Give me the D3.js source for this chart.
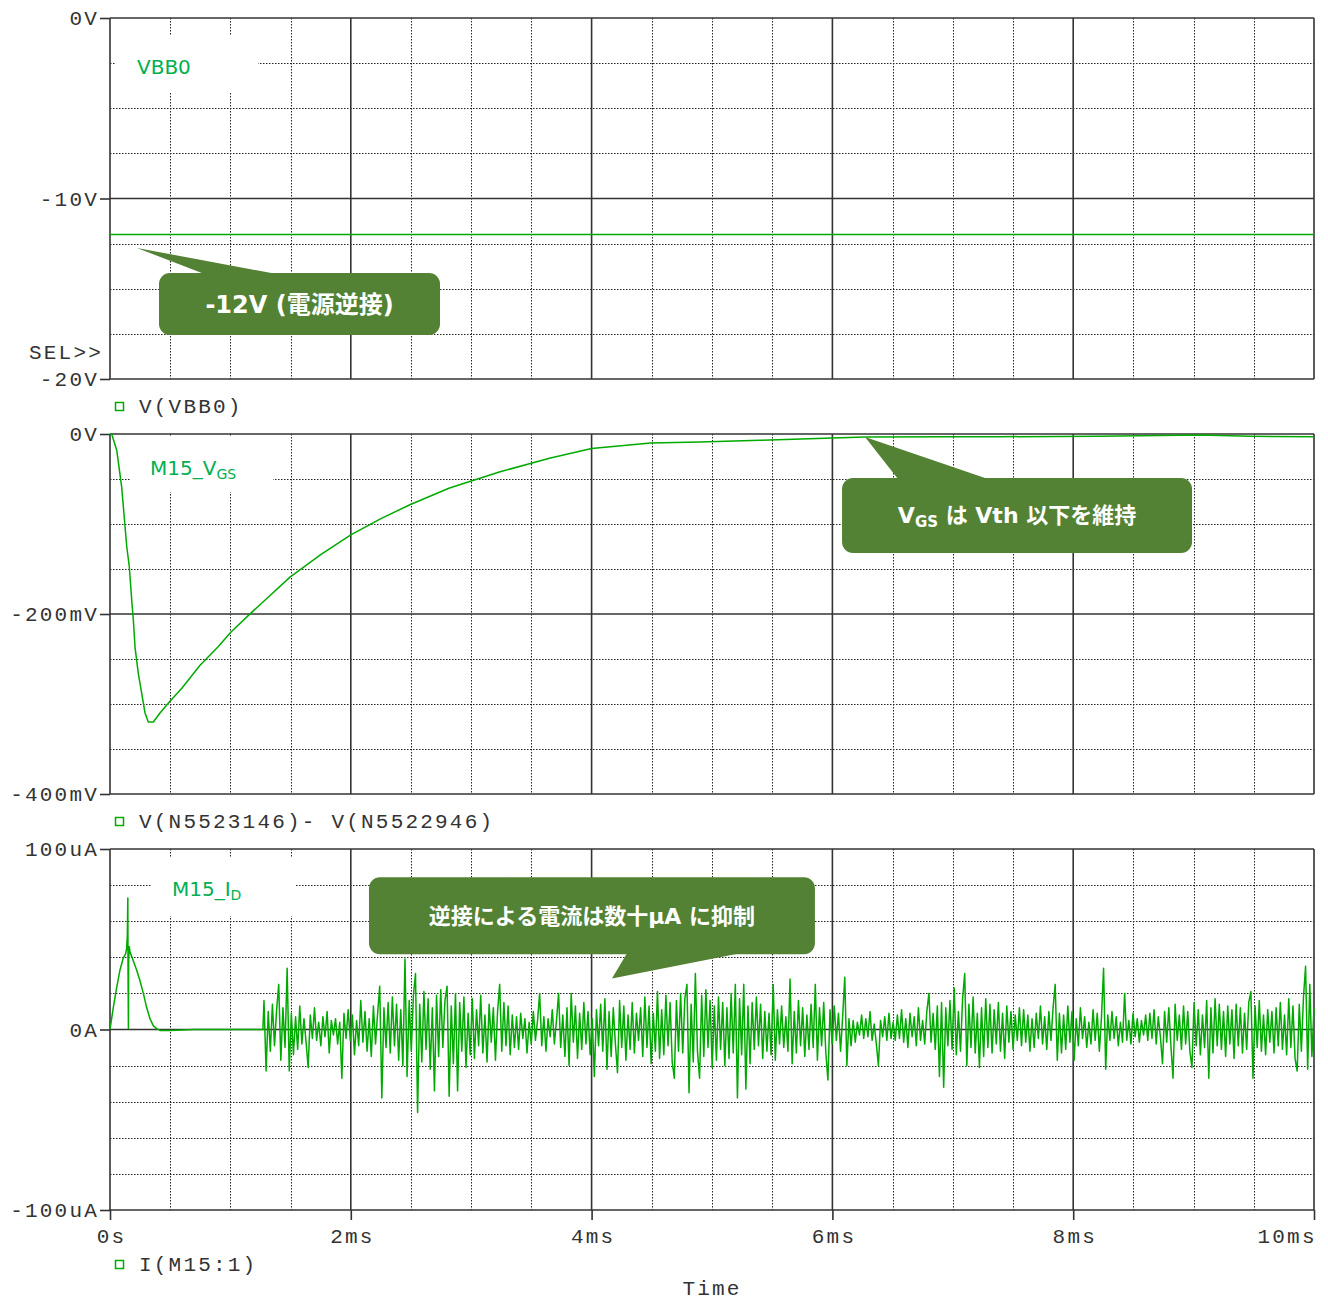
<!DOCTYPE html>
<html>
<head>
<meta charset="utf-8">
<script src="https://cdn.jsdelivr.net/npm/d3@7"></script>
<style>
  body { margin: 0; background: #fff; }
  .mono { font-family: "Liberation Mono", "Courier New", monospace; font-size: 21px; letter-spacing: 2.2px; fill: #333; }
  .tag { font-family: "DejaVu Sans", Verdana, sans-serif; font-size: 20px; fill: #00b050; }
  .note { font-family: "DejaVu Sans", "Noto Sans CJK JP", sans-serif; font-weight: 700; fill: #fff; }
</style>
</head>
<body>
<svg id="chart" width="1328" height="1301"></svg>
<script>
// time axis, ms
const timeTicks = [0, 2, 4, 6, 8, 10];
const timeLabels = ['0s', '2ms', '4ms', '6ms', '8ms', '10ms'];

// panel 1 : V(VBB0) in V
const vbbTicks = [0, -10, -20];
const vbbLabels = ['0V', '-10V', '-20V'];
const vbbTime = [0, 10];
const vbbValues = [-12, -12];

// panel 2 : VGS in mV
const vgsTicks = [0, -200, -400];
const vgsLabels = ['0V', '-200mV', '-400mV'];
const vgsTime = [0, 0.014, 0.056, 0.097, 0.125, 0.139, 0.16, 0.18, 0.194, 0.208, 0.235, 0.263, 0.291,
  0.318, 0.36, 0.415, 0.498, 0.6, 0.748, 0.9, 1.005, 1.17, 1.3, 1.495, 1.75, 2.0, 2.25, 2.5, 2.82,
  3.24, 3.65, 4.0, 4.49, 4.9, 5.4, 6.0, 6.27, 6.98, 7.4, 8.22, 9.05, 9.47, 10];
const vgsValues = [0, 0, -18, -59, -103, -125, -147, -184, -207, -237, -266, -288, -310,
  -320, -320, -310, -297, -282, -257, -236, -220, -199, -183, -159, -134, -112, -94, -78, -60,
  -42, -27, -16, -10, -9, -7, -4.5, -3.3, -3, -3, -2.5, -1, -2.5, -3];

// panel 3 : I(M15:1) in uA
const idTicks = [100, 0, -100];
const idLabels = ['100uA', '0A', '-100uA'];
const idPulseTime = [0, 0.027, 0.055, 0.083, 0.11, 0.13, 0.138, 0.144, 0.148, 0.15, 0.153, 0.155, 0.16,
  0.166, 0.194, 0.221, 0.249, 0.277, 0.305, 0.332, 0.36, 0.388, 0.415, 0.5, 0.7, 1.0, 1.27];
const idPulseValues = [0, 12, 23, 33, 39.5, 42, 45, 52, 72.8, 30, 0.5, 38, 46,
  43, 38, 33, 27, 20, 12, 6, 2, 0.5, -0.5, -0.5, 0, 0, 0];
// noise samples from 1.279ms to 10ms, evenly spaced
const noiseStart = 1.279;
const noiseEnd = 10;
const idNoise = [
  16,-23,10,-12,14,-9,11,25,-17,12,-10,34,-23,9,-14,7,-11,13,-8,6,
  -7,-21,8,-5,12,-6,4,-9,7,-4,10,-13,5,-3,6,-8,4,-27,9,-5,
  11,-6,8,-14,5,-9,16,-7,10,-12,6,-15,13,-8,9,24,-38,12,-10,15,
  -13,18,-9,14,-17,11,-20,39,-26,16,-12,19,31,-46,14,-18,21,-11,17,-22,
  12,-34,19,-15,22,-10,16,24,-37,13,-19,20,-34,15,-12,18,-21,9,-14,17,
  -16,11,-9,19,-13,8,-18,14,-7,12,-17,10,25,-12,15,-9,13,-14,8,-10,
  7,-11,9,-5,6,-13,4,-8,10,-6,5,20,-9,7,-12,6,-4,11,-8,5,
  20,-10,8,-15,12,-20,20,-7,13,-16,9,-11,15,-8,10,-14,6,-26,11,-9,
  14,-12,17,-22,10,-15,12,-8,-24,16,-10,13,-17,8,-11,15,-13,9,-6,12,
  -15,18,-10,13,-19,9,-12,21,-16,11,-14,19,-9,15,-18,-27,16,-12,20,-13,
  17,25,-35,14,-18,31,-12,-27,19,-15,22,-10,16,-21,13,-17,18,-11,15,-20,
  12,-16,20,-13,25,-38,17,-14,25,-33,13,-19,15,-11,18,-9,14,-16,10,-12,
  9,-14,25,-17,11,-8,13,-10,7,-12,28,-19,10,-13,16,-9,12,-15,8,-11,
  14,-10,25,-17,12,-9,15,-13,-28,11,-8,13,-6,9,-12,7,29,-20,6,-9,
  5,-7,4,-3,8,-5,6,-4,10,-6,3,-8,-20,5,-4,7,-6,9,-5,4,
  -6,8,-5,11,-7,6,-10,9,-4,7,-9,12,-6,5,-8,10,20,-7,9,-11,
  13,-26,15,-32,12,-9,16,-11,23,-14,10,-12,17,31,-20,14,-10,18,-13,9,
  -21,12,-15,17,-10,14,-13,11,-8,15,-12,9,-16,13,-7,10,-11,8,-6,12,
  -9,11,-7,8,-12,6,-10,9,-5,13,-8,7,-11,10,-6,12,25,-17,9,-13,
  8,-11,13,-7,10,-17,6,-9,12,-5,7,-10,4,-8,11,-6,9,-12,7,34,
  -22,8,-6,10,-5,7,-9,4,-7,20,-6,5,-8,9,-4,6,-7,5,-3,8,
  -6,9,-5,11,-8,7,-4,-19,10,-7,12,-9,-27,14,-6,8,-11,13,-8,10,
  -12,-21,15,-9,11,-14,8,-10,16,-27,12,-13,17,-9,14,-11,10,-15,13,-8,
  11,-16,14,-9,12,-13,9,-11,15,21,-27,13,-10,16,-12,8,-14,11,-7,10,
  -13,12,-9,15,-11,8,-14,17,-10,13,-16,-23,14,-12,18,35,-22,25,-15,12
];

const noiseStep = (noiseEnd - noiseStart) / (idNoise.length - 1);
const idTime = idPulseTime.concat(idNoise.map((v, i) => noiseStart + i * noiseStep));
const idValues = idPulseValues.concat(idNoise);

const traceColor = '#00aa00';
const gridColor = '#222';
const axisColor = '#333';
const noteColor = '#548235';

const svg = d3.select('#chart');
const x = d3.scaleLinear().domain([0, 10]).range([110, 1314]);
const snap = v => Math.round(v) + 0.5;

const panels = [
  { top: 18, bottom: 379, domain: [-20, 0], ticks: vbbTicks, labels: vbbLabels, minor: 2.5,
    time: vbbTime, values: vbbValues, legend: 'V(VBB0)', legendDy: 27,
    tag: ['VBB0'], tagBox: [5, 18, 143, 56], tagText: [27, 56] },
  { top: 434, bottom: 794, domain: [-400, 0], ticks: vgsTicks, labels: vgsLabels, minor: 50,
    time: vgsTime, values: vgsValues, legend: 'V(N5523146)- V(N5522946)', legendDy: 27,
    tag: ['M15_V', 'GS'], tagBox: [20, 2, 143, 56], tagText: [40, 41] },
  { top: 849, bottom: 1210, domain: [-100, 100], ticks: idTicks, labels: idLabels, minor: 20,
    time: idTime, values: idValues, legend: 'I(M15:1)', legendDy: 54,
    tag: ['M15_I', 'D'], tagBox: [42, 9, 143, 58], tagText: [62, 47] }
];

panels.forEach(p => {
  const y = d3.scaleLinear().domain(p.domain).range([p.bottom, p.top]);
  p.y = y;
  const g = svg.append('g');

  // dotted minor grid
  const minorY = d3.range(p.domain[0], p.domain[1] + 1e-6, p.minor).filter(v => !p.ticks.includes(v));
  const minorX = d3.range(0.5, 10, 0.5).filter(t => !timeTicks.includes(t));
  g.selectAll('.hmin').data(minorY).join('line')
    .attr('x1', x(0)).attr('x2', x(10))
    .attr('y1', d => snap(y(d))).attr('y2', d => snap(y(d)))
    .attr('stroke', gridColor).attr('stroke-dasharray', '1.5,1.5');
  g.selectAll('.vmin').data(minorX).join('line')
    .attr('x1', d => snap(x(d))).attr('x2', d => snap(x(d)))
    .attr('y1', p.top).attr('y2', p.bottom)
    .attr('stroke', gridColor).attr('stroke-dasharray', '1.5,1.5');

  // solid major grid
  g.selectAll('.hmaj').data(p.ticks).join('line')
    .attr('x1', x(0)).attr('x2', x(10))
    .attr('y1', d => y(d)).attr('y2', d => y(d))
    .attr('stroke', axisColor).attr('stroke-width', 1.6);
  g.selectAll('.vmaj').data(timeTicks).join('line')
    .attr('x1', d => x(d)).attr('x2', d => x(d))
    .attr('y1', p.top).attr('y2', p.bottom)
    .attr('stroke', axisColor).attr('stroke-width', 1.6);

  // y axis
  const ax = g.append('g')
    .attr('transform', `translate(${x(0)},0)`)
    .call(d3.axisLeft(y).tickValues(p.ticks).tickSize(10).tickPadding(1)
      .tickFormat((d, i) => p.labels[i]));
  ax.select('.domain').remove();
  ax.selectAll('line').attr('stroke', axisColor).attr('stroke-width', 1.6);
  ax.selectAll('text').attr('class', 'mono').attr('font-family', null).attr('font-size', null).attr('fill', null);

  // trace label with white backing
  g.append('rect')
    .attr('x', x(0) + p.tagBox[0]).attr('y', p.top + p.tagBox[1])
    .attr('width', p.tagBox[2]).attr('height', p.tagBox[3])
    .attr('fill', '#fff');
  const tag = g.append('text').attr('class', 'tag')
    .attr('x', x(0) + p.tagText[0]).attr('y', p.top + p.tagText[1]);
  tag.append('tspan').text(p.tag[0]);
  if (p.tag[1]) tag.append('tspan').style('font-size', '14px').attr('dy', 4).text(p.tag[1]);

  // trace
  const line = d3.line().x(d => x(d[0])).y(d => y(d[1]));
  g.append('path')
    .datum(p.time.map((t, i) => [t, p.values[i]]))
    .attr('d', line)
    .attr('fill', 'none')
    .attr('stroke', traceColor)
    .attr('stroke-width', 1.5)
    .attr('stroke-linejoin', 'round');

  // legend
  const ly = p.bottom + p.legendDy;
  g.append('rect')
    .attr('x', 115.5).attr('y', ly - 3.5).attr('width', 8).attr('height', 8)
    .attr('fill', 'none').attr('stroke', traceColor).attr('stroke-width', 1.5);
  g.append('text').attr('class', 'mono')
    .attr('x', 139).attr('y', ly).attr('dy', '0.35em')
    .text(p.legend);
});

// SEL marker on first panel
svg.append('text').attr('class', 'mono')
  .attr('x', 103).attr('y', panels[0].bottom - 27).attr('dy', '0.35em')
  .attr('text-anchor', 'end').text('SEL>>');

// time axis under the last panel
const last = panels[2];
const xa = svg.append('g')
  .attr('transform', `translate(0,${last.bottom})`)
  .call(d3.axisBottom(x).tickValues(timeTicks).tickSize(10).tickPadding(8)
    .tickFormat((d, i) => timeLabels[i]));
xa.select('.domain').remove();
xa.selectAll('line').attr('stroke', axisColor).attr('stroke-width', 1.6);
xa.selectAll('text').attr('class', 'mono').attr('font-family', null).attr('font-size', null).attr('fill', null)
  .attr('dx', '1.1');
xa.selectAll('text').filter((d, i) => i === timeTicks.length - 1)
  .attr('text-anchor', 'end').attr('dx', '2.2');

svg.append('text').attr('class', 'mono')
  .attr('x', 712).attr('y', 1288).attr('dy', '0.35em')
  .attr('text-anchor', 'middle').text('Time');

// callouts, placed in data units of their panel
const notes = [
  { panel: 0, tip: [0.224, -12.74], base: [0.789, 1.395, -14.2], box: [0.407, 2.741, -14.13, -17.56],
    size: 24, text: [['-12V (電源逆接)', 0]] },
  { panel: 1, tip: [6.271, -3.3], base: [6.545, 7.292, -50], box: [6.08, 8.987, -48.9, -132.2],
    size: 22, text: [['V', 0], ['GS', 1], [' は Vth 以下を維持', 2]] },
  { panel: 2, tip: [4.169, 28.3], base: [4.294, 5.233, 42.2], box: [2.151, 5.855, 84.4, 41.7],
    size: 22, text: [['逆接による電流は数十μA に抑制', 0]] }
];

notes.forEach(n => {
  const y = panels[n.panel].y;
  const g = svg.append('g');
  const bx0 = x(n.box[0]), bx1 = x(n.box[1]);
  const by0 = y(n.box[2]), by1 = y(n.box[3]);
  g.append('rect')
    .attr('x', bx0).attr('y', by0)
    .attr('width', bx1 - bx0).attr('height', by1 - by0)
    .attr('rx', 11).attr('fill', noteColor);
  g.append('polygon')
    .attr('points', [[x(n.tip[0]), y(n.tip[1])], [x(n.base[0]), y(n.base[2])], [x(n.base[1]), y(n.base[2])]]
      .map(d => d.join(',')).join(' '))
    .attr('fill', noteColor);
  const t = g.append('text').attr('class', 'note')
    .style('font-size', n.size + 'px')
    .attr('x', (bx0 + bx1) / 2).attr('y', (by0 + by1) / 2).attr('dy', '0.36em')
    .attr('text-anchor', 'middle');
  n.text.forEach(([s, kind]) => {
    const ts = t.append('tspan').text(s);
    if (kind === 1) ts.style('font-size', '15px').attr('dy', 4);
    if (kind === 2) ts.attr('dy', -4);
  });
});
</script>
</body>
</html>
